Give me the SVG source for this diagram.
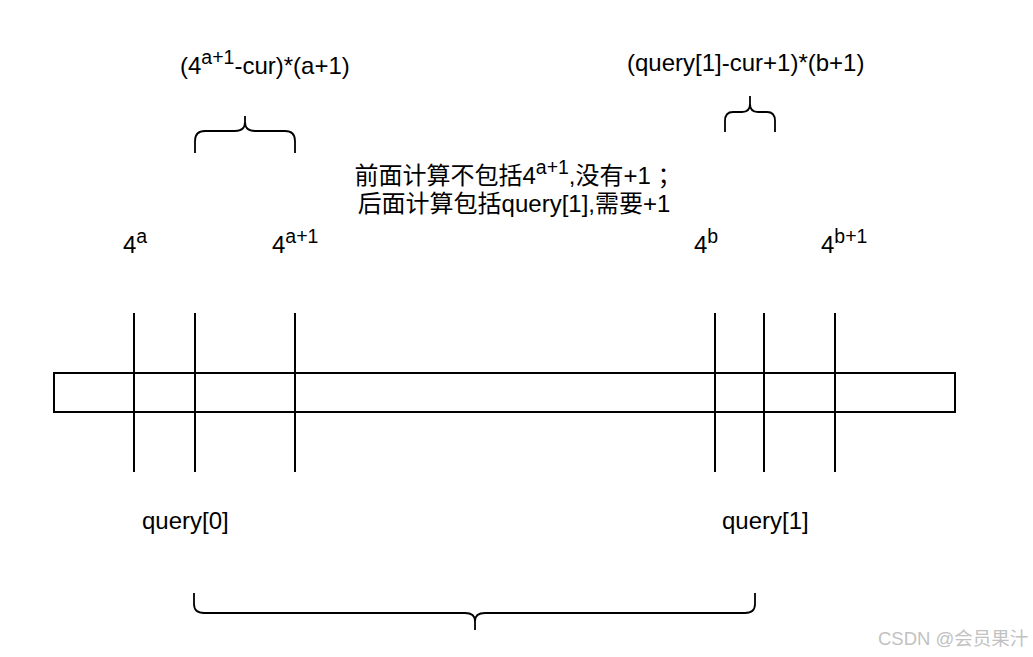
<svg xmlns="http://www.w3.org/2000/svg" width="1033" height="657" viewBox="0 0 1033 657">
<style>
text{font-family:"Liberation Sans","Noto Sans CJK SC",sans-serif;font-size:24px;fill:#000}
.sup{font-size:19.5px}
.ln{stroke:#000;stroke-width:2;fill:none}
.br{stroke:#000;stroke-width:1.8;fill:none}
.wm{font-size:18.5px;fill:#c2c2c2}
</style>
<rect width="1033" height="657" fill="#fff"/>
<g id="bar"><rect class="ln" x="54" y="373" width="901" height="39"/></g>
<g id="connectors">
<line class="ln" x1="134" y1="313" x2="134" y2="472"/>
<line class="ln" x1="195" y1="313" x2="195" y2="472"/>
<line class="ln" x1="295" y1="313" x2="295" y2="472"/>
<line class="ln" x1="715" y1="313" x2="715" y2="472"/>
<line class="ln" x1="764" y1="313" x2="764" y2="472"/>
<line class="ln" x1="835" y1="313" x2="835" y2="472"/>
</g>
<g id="brace-left"><path class="br" d="M195,153 V141 Q195,131 205,131 H235 Q245,131 245,122 V116 M245,122 Q245,131 255,131 H285 Q295,131 295,141 V153"/></g>
<g id="brace-right"><path class="br" d="M725,132 V121 Q725,112 733,112 H742 Q750,112 750,104 V96 M750,104 Q750,112 758,112 H767 Q775,112 775,121 V132"/></g>
<g id="brace-bottom"><path class="br" d="M194,593 V604 Q194,613 204,613 H465 Q475,613 475,621 V630 M475,621 Q475,613 485,613 H745 Q755,613 755,604 V593"/></g>
<g id="label-left"><text x="180" y="74">(4<tspan class="sup" dy="-10">a+1</tspan><tspan dy="10">-cur)*(a+1)</tspan></text></g>
<g id="label-right"><text x="627" y="71">(query[1]-cur+1)*(b+1)</text></g>
<g id="note">
<text x="518" y="184" text-anchor="middle">前面计算不包括4<tspan class="sup" dy="-10">a+1</tspan><tspan dy="10">,没有+1 ；</tspan></text>
<text x="514" y="212" text-anchor="middle">后面计算包括query[1],需要+1</text>
</g>
<g id="p4a"><text x="123" y="253">4<tspan class="sup" dy="-10">a</tspan></text></g>
<g id="p4a1"><text x="272" y="253">4<tspan class="sup" dy="-10">a+1</tspan></text></g>
<g id="p4b"><text x="694" y="253">4<tspan class="sup" dy="-10">b</tspan></text></g>
<g id="p4b1"><text x="821" y="253">4<tspan class="sup" dy="-10">b+1</tspan></text></g>
<g id="q0"><text x="142" y="529">query[0]</text></g>
<g id="q1"><text x="722" y="529">query[1]</text></g>
<text class="wm" x="878" y="645">CSDN @会员果汁</text>
</svg>
